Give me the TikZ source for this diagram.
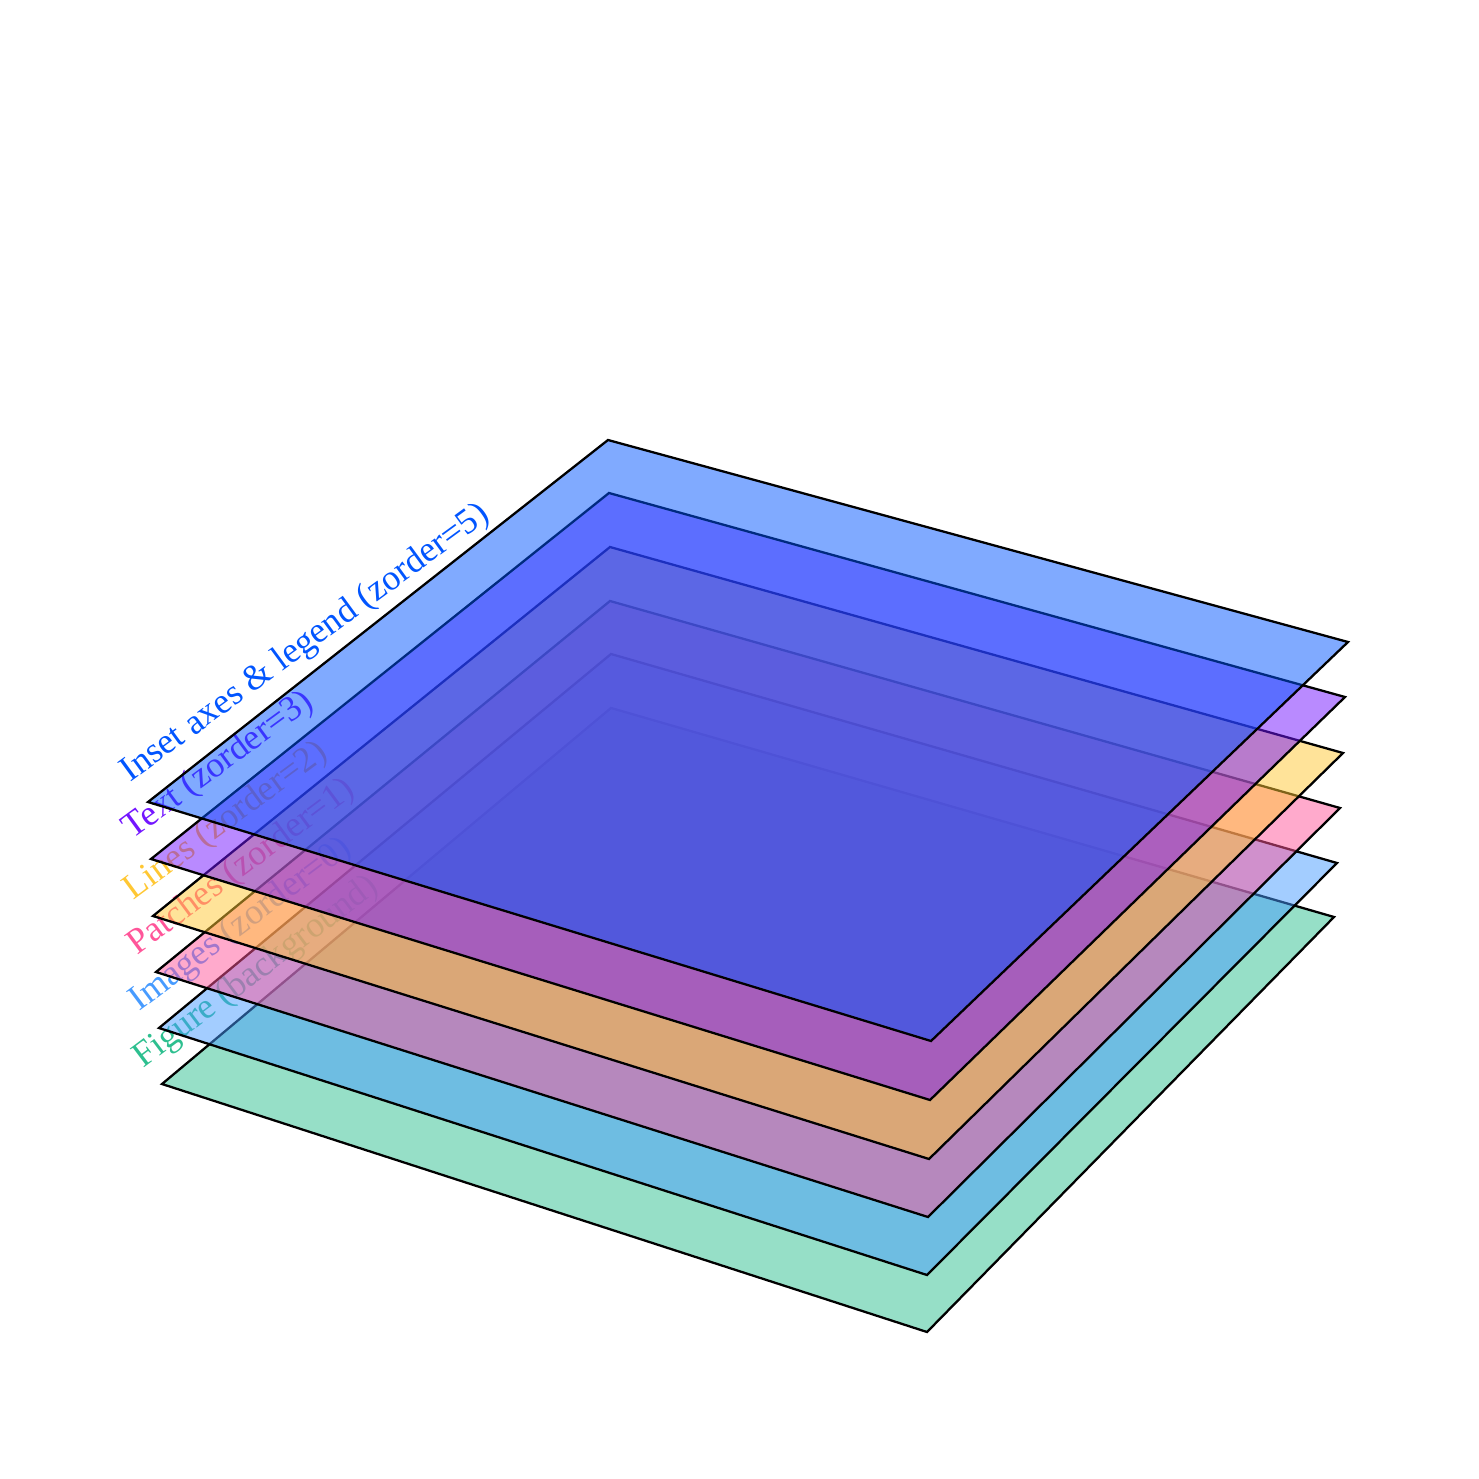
\documentclass[tikz,border=0pt]{standalone}
\usepackage{fontspec}
\setmainfont{Liberation Serif}
\usetikzlibrary{calc}
\definecolor{cfig}{RGB}{45,191,143}
\definecolor{cimg}{RGB}{71,155,255}
\definecolor{cpat}{RGB}{255,85,153}
\definecolor{clin}{RGB}{255,199,51}
\definecolor{ctxt}{RGB}{115,21,255}
\definecolor{cins}{RGB}{1,85,255}
\begin{document}
\begin{tikzpicture}[x=0.01cm,y=-0.01cm,
  layer/.style={fill=#1, fill opacity=0.5, draw=black, line width=0.65pt, line join=miter},
  lbl/.style={anchor=base west, inner sep=0pt, text=#1, font=\fontsize{10.2}{12}\selectfont}]
\useasboundingbox (0,0) rectangle (1479,1479);
% corners
\coordinate (l0) at (162,1084); \coordinate (b0) at (927,1332); \coordinate (r0) at (1334,917); \coordinate (t0) at (611,708);
\coordinate (l1) at (159,1028); \coordinate (b1) at (927,1275); \coordinate (r1) at (1337,863); \coordinate (t1) at (611,654);
\coordinate (l2) at (156,972);  \coordinate (b2) at (928,1217); \coordinate (r2) at (1340,808); \coordinate (t2) at (610,601);
\coordinate (l3) at (153,916);  \coordinate (b3) at (929,1159); \coordinate (r3) at (1343,753); \coordinate (t3) at (610,547);
\coordinate (l4) at (151,859);  \coordinate (b4) at (930,1100); \coordinate (r4) at (1345,697); \coordinate (t4) at (609,493);
\coordinate (l5) at (148,802);  \coordinate (b5) at (931,1041); \coordinate (r5) at (1348,642); \coordinate (t5) at (608,440);
% layer 0
\draw[layer=cfig] (l0) -- (b0) -- (r0) -- (t0) -- cycle;
\node[lbl=cfig, rotate=37.0] (n0) at ($(l0)+(-19,-15)$) {Figure (background)};
% layer 1
\draw[layer=cimg] (l1) -- (b1) -- (r1) -- (t1) -- cycle;
\node[lbl=cimg, rotate=36.8] (n1) at ($(l1)+(-20,-16)$) {Images (zorder=0)};
% layer 2
\draw[layer=cpat] (l2) -- (b2) -- (r2) -- (t2) -- cycle;
\node[lbl=cpat, rotate=36.6] (n2) at ($(l2)+(-19,-16)$) {Patches (zorder=1)};
% layer 3
\draw[layer=clin] (l3) -- (b3) -- (r3) -- (t3) -- cycle;
\node[lbl=clin, rotate=36.4] (n3) at ($(l3)+(-20,-15)$) {Lines (zorder=2)};
% layer 4
\draw[layer=ctxt] (l4) -- (b4) -- (r4) -- (t4) -- cycle;
\node[lbl=ctxt, rotate=36.2] (n4) at ($(l4)+(-19,-19)$) {Text (zorder=3)};
% layer 5
\draw[layer=cins] (l5) -- (b5) -- (r5) -- (t5) -- cycle;
\node[lbl=cins, rotate=36.2] (n5) at ($(l5)+(-18,-19)$) {Inset axes \& legend (zorder=5)};
\end{tikzpicture}
\end{document}
